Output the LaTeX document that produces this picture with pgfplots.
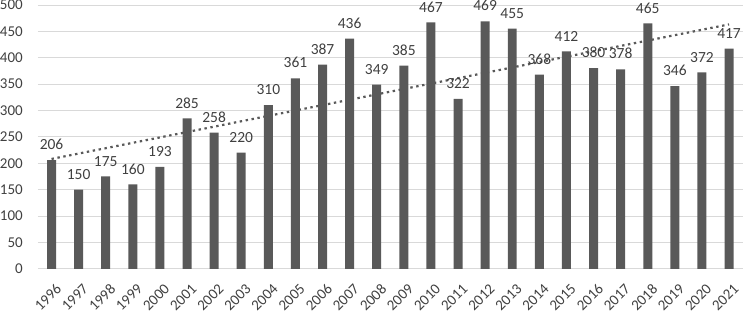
\documentclass[border=0pt]{standalone}
\usepackage{pgfplots}
\pgfplotsset{compat=1.18}
\usepackage{fontspec}
\setmainfont{Carlito}
\definecolor{barc}{HTML}{595959}
\definecolor{gridc}{HTML}{D9D9D9}
\definecolor{txtc}{HTML}{404040}
\begin{document}
\begin{tikzpicture}
\begin{axis}[
  scale only axis, width=705pt, height=264pt,
  xmin=-0.5, xmax=25.5, ymin=0, ymax=500,
  ytick={0,50,...,500},
  xtick={0,...,25},
  xticklabels={1996,1997,1998,1999,2000,2001,2002,2003,2004,2005,2006,2007,2008,2009,2010,2011,2012,2013,2014,2015,2016,2017,2018,2019,2020,2021},
  axis line style={draw=none},
  major tick length=0pt,
  ymajorgrids, grid style={gridc, line width=0.8pt},
  /pgf/number format/assume math mode=true,
  tick label style={font=\fontsize{15}{18}\selectfont, text=txtc},
  yticklabel style={inner sep=0pt, xshift=-15pt},
  xticklabel style={yshift=-14pt, xshift=3.5pt, rotate=45, anchor=north east, inner sep=0pt},
  clip=false,
]
\addplot[ybar, bar width=9pt, fill=barc, draw=none,
  nodes near coords,
  every node near coord/.append style={font=\fontsize{15.5}{18}\selectfont, text=txtc, inner sep=0pt, anchor=south, yshift=10pt}]
coordinates {
(0,206)(1,150)(2,175)(3,160)(4,193)(5,285)(6,258)(7,220)(8,310)(9,361)
(10,387)(11,436)(12,349)(13,385)(14,467)(15,322)(16,469)(17,455)(18,368)(19,412)
(20,380)(21,378)(22,465)(23,346)(24,372)(25,417)};
\addplot[barc, line width=2.2pt, dash pattern=on 2.4pt off 3.6pt, sharp plot, mark=none] coordinates {(0,208.1)(25,463.1)};
\end{axis}
\end{tikzpicture}
\end{document}
